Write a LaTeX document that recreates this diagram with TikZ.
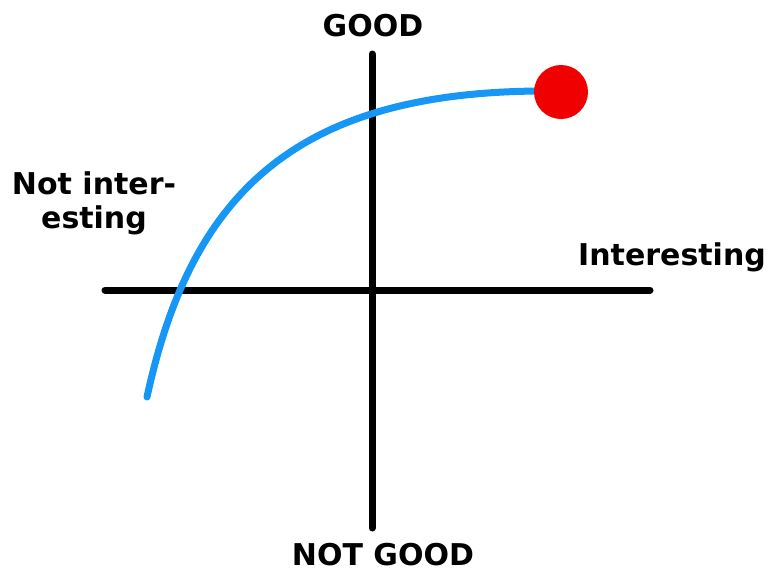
\documentclass[tikz,border=0pt]{standalone}
\usepackage{fontspec}
\setmainfont{DejaVu Sans}
\definecolor{curveblue}{RGB}{22,150,245}
\definecolor{dotred}{RGB}{240,0,0}
\begin{document}
\begin{tikzpicture}[x=1pt,y=-1pt,
  axis/.style={line width=7pt,line cap=round,black},
  lbl/.style={font=\fontsize{30}{34}\selectfont\bfseries,inner sep=0pt,anchor=base},
  curve/.style={line width=7pt,line cap=round,curveblue}]
\useasboundingbox[fill=white] (0,0) rectangle (768,571);
\coordinate (vtop) at (372,54);
\coordinate (vbot) at (372,528);
\coordinate (hleft) at (105,290);
\coordinate (hright) at (650,290);
\draw[axis] (vtop) -- (vbot);
\draw[axis] (hleft) -- (hright);
\coordinate (cstart) at (147,397);
\coordinate (cend) at (545,91);
\draw[curve] (cstart) .. controls (191,194) and (295,91) .. (cend);
\node[circle,fill=dotred,minimum size=54pt,inner sep=0pt] (dot) at (561,92) {};
\node[lbl] (good) at (373,36) {GOOD};
\node[lbl] (notgood) at (383,565) {NOT GOOD};
\node[lbl,anchor=base west] (int) at (578,265) {Interesting};
\node[lbl,align=center,anchor=base] (notint) at (94,228) {Not inter-\\esting};
\end{tikzpicture}
\end{document}
